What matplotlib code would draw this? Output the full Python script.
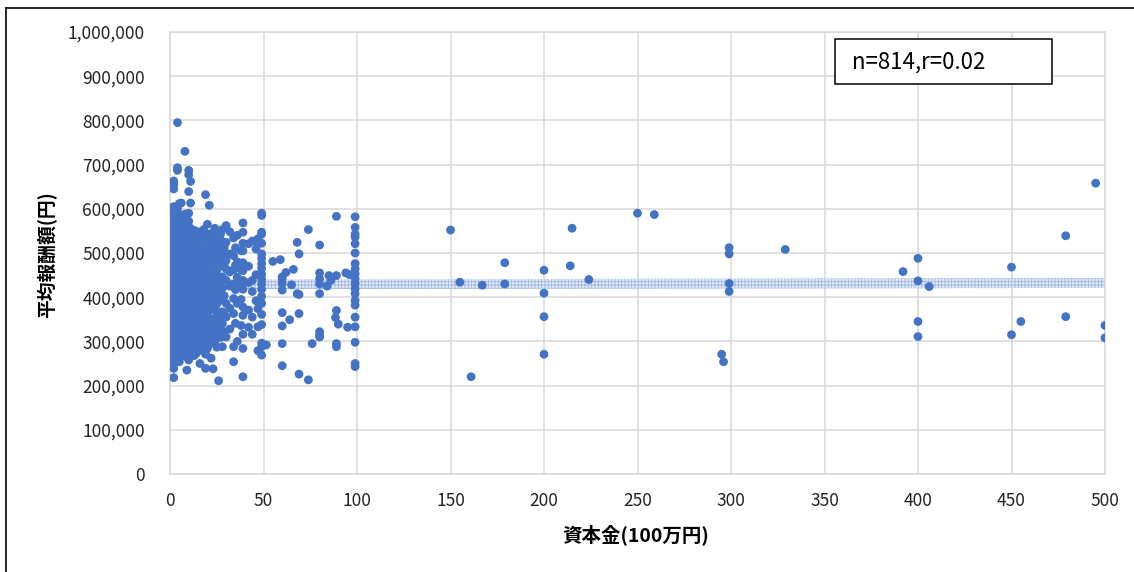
import matplotlib
matplotlib.use("Agg")
import matplotlib.pyplot as plt
from matplotlib.lines import Line2D
from matplotlib.patches import Rectangle
from matplotlib.ticker import FuncFormatter, MultipleLocator
import numpy as np

plt.rcParams['font.family'] = ['Noto Sans CJK JP', 'DejaVu Sans']
plt.rcParams['hatch.linewidth'] = 0.6

# capital (100万円) columns in the crowded part, with average pay in thousand yen
small_caps = [0.5, 1, 2, 3, 4, 5, 6, 7, 8, 9, 10, 11, 12, 13, 14, 15, 16, 17,
              18, 19, 20, 21, 22, 23, 24, 25, 26, 27, 28, 29, 30, 32, 34, 35,
              36, 38, 39, 42, 44, 46, 47, 49]
small_pays = [
    [596, 590, 432, 409, 389, 346, 265],
    [578, 561, 544, 529, 511, 498, 481, 465, 452, 436, 421, 405, 389, 373, 357, 342, 324, 311, 295, 280, 262],
    [663, 655, 645, 605, 582, 567, 553, 535, 521, 505, 491, 475, 462, 446, 431, 414, 400, 382, 369, 350, 336, 317, 304, 286, 271, 250, 239, 218],
    [571, 554, 541, 524, 510, 493, 479, 462, 449, 432, 419, 401, 388, 371, 358, 341, 328, 311, 298, 281, 267, 254],
    [795, 693, 687, 600, 576, 559, 546, 529, 516, 499, 486, 469, 456, 439, 426, 409, 396, 379, 366, 349, 336, 319, 306, 289, 276, 260],
    [612, 586, 571, 549, 538, 521, 503, 492, 476, 459, 452, 437, 421, 413, 398, 384, 366, 351, 343, 328, 314, 296, 283, 262, 254],
    [613, 581, 566, 553, 534, 517, 508, 489, 471, 462, 444, 428, 417, 402, 391, 373, 359, 338, 322, 309, 291, 276],
    [573, 557, 541, 526, 513, 497, 483, 468, 455, 441, 426, 412, 396, 381, 367, 352, 336, 318, 302, 288, 270],
    [730, 588, 563, 544, 530, 514, 499, 486, 470, 457, 443, 431, 416, 401, 388, 371, 357, 344, 329, 312, 298, 283, 267],
    [548, 531, 517, 501, 482, 466, 451, 436, 423, 409, 393, 379, 362, 348, 333, 317, 301, 286, 235],
    [687, 677, 639, 590, 572, 554, 537, 522, 506, 493, 478, 461, 447, 434, 419, 405, 392, 377, 361, 347, 332, 314, 300, 287, 272, 258],
    [662, 613, 556, 539, 519, 502, 488, 473, 458, 445, 430, 414, 398, 383, 369, 354, 339, 323, 307, 293, 276],
    [545, 528, 512, 496, 481, 463, 449, 432, 418, 403, 386, 370, 355, 340, 326, 311, 295, 281],
    [551, 534, 510, 487, 466, 441, 428, 407, 390, 364, 349, 330, 305, 289, 268],
    [540, 521, 503, 484, 459, 438, 420, 396, 377, 358, 336, 314, 298, 273],
    [548, 526, 507, 490, 470, 452, 433, 411, 389, 372, 351, 331, 316, 293, 279],
    [530, 512, 494, 473, 447, 426, 405, 383, 362, 341, 318, 297, 281, 250],
    [538, 497, 468, 443, 419, 396, 373, 344, 310, 286],
    [553, 520, 487, 459, 431, 408, 385, 356, 327, 301, 278],
    [632, 545, 503, 476, 450, 425, 402, 376, 349, 322, 298, 271, 239],
    [565, 530, 496, 467, 441, 418, 389, 362, 336, 310, 284],
    [608, 521, 488, 455, 429, 397, 370, 343, 318, 294],
    [544, 511, 480, 447, 414, 386, 351, 320, 262],
    [527, 499, 472, 439, 407, 378, 335, 305, 238],
    [556, 533, 505, 476, 452, 425, 398, 371, 347, 324, 299],
    [548, 516, 491, 460, 433, 411, 384, 356, 315, 287],
    [520, 486, 445, 404, 366, 330, 211],
    [542, 503, 470, 436, 396, 352, 309],
    [553, 526, 499, 473, 446, 420, 393, 367, 340, 313, 288],
    [512, 478, 439, 403, 361, 322],
    [562, 524, 483, 464, 438, 386, 355, 310],
    [548, 498, 457, 425, 375, 328],
    [534, 494, 462, 430, 397, 363, 288, 254],
    [512, 472, 417, 341],
    [540, 480, 445, 386, 300],
    [505, 463, 429, 395, 336],
    [568, 547, 522, 505, 478, 460, 438, 418, 378, 359, 316, 284, 220],
    [521, 470, 433, 371, 332],
    [527, 438, 413, 355, 316],
    [509, 451, 392],
    [532, 524, 374, 333, 279],
    [590, 585, 547, 543, 522, 498, 488, 476, 465, 452, 441, 430, 418, 402, 386, 361, 338, 296, 288, 269],
]

# scattered companies from 50 up to 100
mid_caps = [51.5, 55, 59, 60, 60, 60, 60, 60, 60, 60, 60, 62, 64, 65, 66, 68, 68,
            69, 69, 69, 69, 74, 74, 76, 80, 80, 80, 80, 80, 80, 80, 80, 84, 85, 86,
            88.5, 89, 89, 89, 89, 89, 90, 94, 95, 96]
mid_pays = [292, 481, 485, 446, 441, 431, 416, 365, 335, 295, 245, 456, 349, 428, 463, 524, 408,
            498, 406, 363, 226, 553, 213, 295, 518, 455, 442, 430, 408, 322, 315, 310, 425, 449, 438,
            354, 370, 295, 288, 583, 449, 339, 455, 332, 451]

# the 100 column
cap_100 = 99
pays_100 = [582, 558, 543, 536, 521, 500, 476, 464, 453, 442, 431, 419, 408, 393, 382,
            355, 333, 298, 250, 243]

# large companies, thinly spread
big_caps = [150, 155, 167, 161, 179, 179, 200, 200, 200, 200, 215, 214, 224, 250, 259,
            299, 299, 299, 299, 295, 296, 329, 392, 400, 400, 406, 400, 400, 450, 450,
            455, 479, 479, 495, 500, 500]
big_pays = [552, 434, 427, 220, 478, 430, 461, 409, 356, 271, 556, 471, 440, 590, 587,
            512, 498, 431, 413, 271, 254, 508, 458, 488, 437, 424, 345, 311, 468, 315,
            345, 539, 356, 658, 336, 308]

# linear trend (r = 0.02) and its band
trend_x = [0, 500]
trend_y = [429, 432]
band_half = 11

caps = [c for c, ps in zip(small_caps, small_pays) for _ in ps] + mid_caps + [cap_100] * len(pays_100) + big_caps
pays = [p for ps in small_pays for p in ps] + mid_pays + pays_100 + big_pays
caps = np.array(caps, dtype=float)
pays = np.array(pays, dtype=float) * 1000

fig = plt.figure(figsize=(11.34, 5.72), dpi=100)
ax = fig.add_axes([170 / 1134, 98 / 572, 935 / 1134, 442 / 572])

tx = np.array(trend_x, dtype=float)
ty = np.array(trend_y, dtype=float) * 1000
ax.fill_between(tx, ty - band_half * 1000, ty + band_half * 1000,
                facecolor='#E2EAF7', edgecolor='#9DB6E3', hatch='+++++',
                linewidth=0, zorder=2)

ax.scatter(caps, pays, s=40, color='#4472C4', edgecolors='none', zorder=3)

ax.set_xlim(0, 500)
ax.set_ylim(0, 1000000)
ax.xaxis.set_major_locator(MultipleLocator(50))
ax.yaxis.set_major_locator(MultipleLocator(100000))
ax.yaxis.set_major_formatter(FuncFormatter(lambda v, pos: f'{v:,.0f}'))
ax.grid(True, color='#D9D9D9', linewidth=1.1, zorder=0)
ax.set_axisbelow(True)
for s in ax.spines.values():
    s.set_color('#D9D9D9')
    s.set_linewidth(1.1)
ax.tick_params(length=0, labelsize=12.5, colors='#222222')
ax.tick_params(axis='y', pad=18)
ax.tick_params(axis='x', pad=13)

fig.text(47 / 1134, 1 - 255 / 572, '平均報酬額(円)', rotation=90, fontsize=13.5,
         fontweight='bold', ha='center', va='center')
fig.text(636 / 1134, 1 - 535 / 572, '資本金(100万円)', fontsize=14,
         fontweight='bold', ha='center', va='center')

# stats box
ax.add_patch(Rectangle((0.711, 0.882), 0.232, 0.102, transform=ax.transAxes,
                       facecolor='white', edgecolor='black', linewidth=1.1, zorder=5))
ax.text(0.729, 0.933, 'n=814,r=0.02', transform=ax.transAxes, fontsize=16,
        ha='left', va='center', zorder=6)

# outer frame of the chart area
fig.add_artist(Line2D([6 / 1134, 6 / 1134], [0, 1 - 8 / 572], color='black', linewidth=1.2))
fig.add_artist(Line2D([6 / 1134, 1], [1 - 8 / 572, 1 - 8 / 572], color='black', linewidth=1.2))

fig.savefig('out.png', dpi=100)
